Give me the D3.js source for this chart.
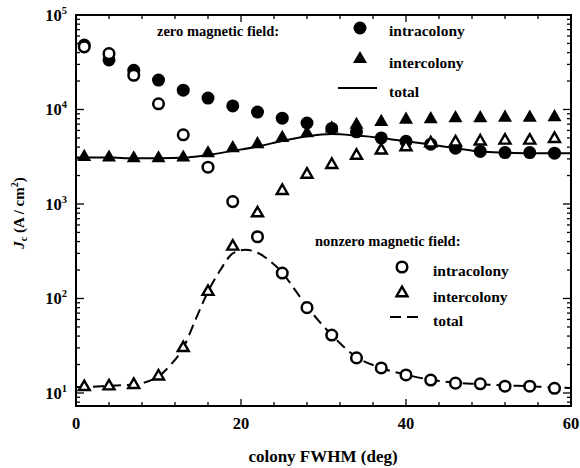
<!DOCTYPE html>
<html>
<head>
<meta charset="utf-8">
<script src="https://cdn.jsdelivr.net/npm/d3@7"></script>
<style>
  html, body { margin: 0; padding: 0; background: #fff; }
  svg text { font-family: "Liberation Serif", "Times New Roman", serif; font-weight: bold; fill: #000; }
</style>
</head>
<body>
<svg id="chart" width="580" height="468"></svg>
<script>
// ---- data ----
const fwhm = [1,4,7,10,13,16,19,22,25,28,31,34,37,40,43,46,49,52,55,58];
const zeroIntra = [48000,33500,26000,20500,16000,13200,10900,9400,8100,7200,6300,5800,5000,4600,4300,3900,3600,3500,3500,3450];
const zeroInter = [3150,3100,3050,3050,3100,3450,3900,4300,5000,5600,6300,6900,7400,7800,7900,8100,8100,8200,8200,8300];
const zeroTotalX = [0,1,4,7,10,13,16,19,22,25,28,31,34,37,40,43,46,49,52,55,58,60];
const zeroTotal = [3100,3100,3100,3050,3050,3080,3300,3650,4050,4650,5200,5500,5300,5000,4600,4250,3900,3600,3500,3450,3450,3450];
const nzIntra = [46000,39000,23000,11500,5400,2450,1060,450,186,80,41,23.5,18.4,15.5,13.7,12.7,12.5,11.8,11.8,11.2];
const nzInter = [11.6,11.8,12.2,15,30,118,355,800,1380,2050,2600,3250,3700,4000,4400,4500,4600,4700,4700,4900];
const nzTotalX = [0,1,4,7,10,11.5,13,14.5,16,17.5,19,20.5,22,23.5,25,26.5,28,29.5,31,34,37,40,43,46,49,52,55,58,60];
const nzTotal = [11.6,11.6,11.9,12.3,15,20,30,60,118,200,300,328,305,250,188,125,82,57,41,24,18.4,15.6,13.8,12.8,12.4,12,11.8,11.4,11.3];
const xTickVals = [0,20,40,60];
const yTickVals = [10,100,1000,10000,100000];
const yTickExps = ["1","2","3","4","5"];

// ---- layout ----
const svg = d3.select("#chart");
const L = 76, R = 571, T = 15, B = 406;
const x = d3.scaleLinear().domain([0,60]).range([L,R]);
const y = d3.scaleLog().domain([7.28,100000]).range([B,T]);

// axes box
svg.append("rect").attr("x",L).attr("y",T).attr("width",R-L).attr("height",B-T)
  .attr("fill","none").attr("stroke","#000").attr("stroke-width",2);

// x ticks (bottom and top), inward
const xMinor = d3.range(0,61,4);
const tickG = svg.append("g").attr("stroke","#000").attr("stroke-width",1.3);
xMinor.forEach(v => {
  const major = xTickVals.includes(v);
  const len = major ? 7 : 4;
  tickG.append("line").attr("x1",x(v)).attr("x2",x(v)).attr("y1",B).attr("y2",B-len);
  tickG.append("line").attr("x1",x(v)).attr("x2",x(v)).attr("y1",T).attr("y2",T+len);
});
// y ticks (left and right)
const yMinor = [];
for (let e = 0; e <= 4; e++) for (let m = 2; m <= 9; m++) {
  const v = m * Math.pow(10,e);
  if (v >= 7.28 && v <= 100000) yMinor.push(v);
}
yMinor.forEach(v => {
  tickG.append("line").attr("x1",L).attr("x2",L+4).attr("y1",y(v)).attr("y2",y(v));
  tickG.append("line").attr("x1",R).attr("x2",R-4).attr("y1",y(v)).attr("y2",y(v));
});
yTickVals.forEach(v => {
  tickG.append("line").attr("x1",L).attr("x2",L+8).attr("y1",y(v)).attr("y2",y(v));
  tickG.append("line").attr("x1",R).attr("x2",R-8).attr("y1",y(v)).attr("y2",y(v));
});

// tick labels
xTickVals.forEach(v => {
  svg.append("text").attr("x",x(v)).attr("y",429).attr("text-anchor","middle")
    .attr("font-size",16.5).text(v);
});
yTickVals.forEach((v,i) => {
  const t = svg.append("text").attr("x",67).attr("y",y(v)+6).attr("text-anchor","end").attr("font-size",16.5);
  t.append("tspan").text("10");
  t.append("tspan").attr("font-size",10.5).attr("dy",-7).text(yTickExps[i]);
});

// axis titles
svg.append("text").attr("x",323).attr("y",462).attr("text-anchor","middle").attr("font-size",17)
  .text("colony FWHM (deg)");
const yl = svg.append("text").attr("transform","translate(24,213) rotate(-90)")
  .attr("text-anchor","middle").attr("font-size",15);
yl.append("tspan").attr("font-style","italic").text("J");
yl.append("tspan").attr("font-size",10).attr("dy",3).text("c");
yl.append("tspan").attr("dy",-3).text(" (A / cm");
yl.append("tspan").attr("font-size",10).attr("dy",-6).text("2");
yl.append("tspan").attr("dy",6).text(")");

// ---- lines ----
const line = d3.line().x(d => x(d[0])).y(d => y(d[1])).curve(d3.curveMonotoneX);
svg.append("path").datum(zeroTotalX.map((v,i)=>[v,zeroTotal[i]]))
  .attr("d",line).attr("fill","none").attr("stroke","#000").attr("stroke-width",2);
svg.append("path").datum(nzTotalX.map((v,i)=>[v,nzTotal[i]]))
  .attr("d",line).attr("fill","none").attr("stroke","#000").attr("stroke-width",2)
  .attr("stroke-dasharray","11,6");

// ---- markers ----
function tri(s) {
  const h = s * Math.sqrt(3) / 2;
  return `M0,${-h*2/3}L${s/2},${h/3}L${-s/2},${h/3}Z`;
}
function drawCircles(data, filled) {
  svg.append("g").selectAll("circle").data(data).join("circle")
    .attr("cx",(d,i)=>x(fwhm[i])).attr("cy",d=>y(d))
    .attr("r", filled ? 6.5 : 5.3)
    .attr("fill", filled ? "#000" : "#fff")
    .attr("stroke","#000").attr("stroke-width", filled ? 0 : 2.5);
}
function drawTris(data, filled) {
  svg.append("g").selectAll("path").data(data).join("path")
    .attr("transform",(d,i)=>`translate(${x(fwhm[i])},${y(d)})`)
    .attr("d", filled ? tri(14) : tri(11))
    .attr("fill", filled ? "#000" : "#fff")
    .attr("stroke","#000").attr("stroke-width", filled ? 0 : 2.4)
    .attr("stroke-linejoin","miter");
}
drawCircles(zeroIntra, true);
drawTris(zeroInter, true);
drawTris(nzInter, false);
drawCircles(nzIntra, false);

// ---- legends ----
const lg = svg.append("g");
lg.append("text").attr("x",157).attr("y",36).attr("font-size",14.5).text("zero magnetic field:");
lg.append("circle").attr("cx",360).attr("cy",28).attr("r",6.5).attr("fill","#000");
lg.append("text").attr("x",389).attr("y",36).attr("font-size",15.5).text("intracolony");
lg.append("path").attr("transform","translate(360,59)").attr("d",tri(14)).attr("fill","#000");
lg.append("text").attr("x",389).attr("y",68).attr("font-size",15.5).text("intercolony");
lg.append("line").attr("x1",338).attr("x2",377).attr("y1",88).attr("y2",88).attr("stroke","#000").attr("stroke-width",2);
lg.append("text").attr("x",389).attr("y",97).attr("font-size",15.5).text("total");

lg.append("text").attr("x",315).attr("y",246).attr("font-size",14.5).text("nonzero magnetic field:");
lg.append("circle").attr("cx",402).attr("cy",267).attr("r",5.3).attr("fill","#fff").attr("stroke","#000").attr("stroke-width",2.5);
lg.append("text").attr("x",433).attr("y",276).attr("font-size",15.5).text("intracolony");
lg.append("path").attr("transform","translate(402,293)").attr("d",tri(11)).attr("fill","#fff").attr("stroke","#000").attr("stroke-width",2.4);
lg.append("text").attr("x",433).attr("y",302).attr("font-size",15.5).text("intercolony");
lg.append("line").attr("x1",390).attr("x2",419).attr("y1",317).attr("y2",317).attr("stroke","#000").attr("stroke-width",2).attr("stroke-dasharray","11,6");
lg.append("text").attr("x",433).attr("y",326).attr("font-size",15.5).text("total");
</script>
</body>
</html>
